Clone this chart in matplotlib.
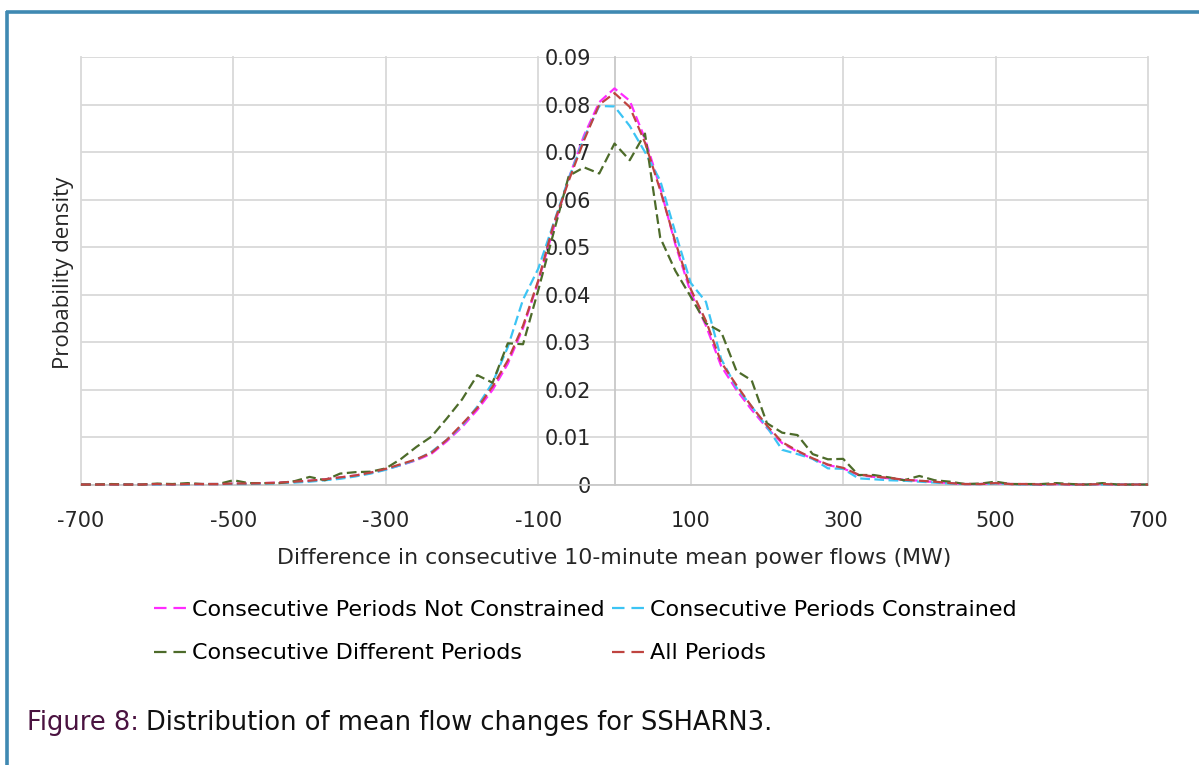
import numpy as np
import matplotlib
matplotlib.use("Agg")
import matplotlib.pyplot as plt
from matplotlib.lines import Line2D

# ---------------- data ----------------
x_bins = np.arange(-700, 701, 20)

not_constrained = [
    0.0001, 0.0001, 0.0001, 0.0001, 0.0001, 0.0002, 0.0001, 0.0002, 0.0002, 0.0002,
    0.0003, 0.0003, 0.0004, 0.0005, 0.0007, 0.0009, 0.0012, 0.0016, 0.0020, 0.0026,
    0.0033, 0.0042, 0.0052, 0.0066, 0.0092, 0.0122, 0.0158, 0.0200, 0.0255, 0.0330,
    0.0428, 0.0540, 0.0645, 0.0735, 0.0805, 0.0834, 0.0808, 0.0728, 0.0625, 0.0505,
    0.0405, 0.0335, 0.0250, 0.0200, 0.0158, 0.0120, 0.0088, 0.0070, 0.0055, 0.0042,
    0.0035, 0.0021, 0.0017, 0.0014, 0.0011, 0.0009, 0.0006, 0.0004, 0.0002, 0.0002,
    0.0004, 0.0002, 0.0002, 0.0001, 0.0002, 0.0001, 0.0001, 0.0002, 0.0001, 0.0001, 0.0001,
]

constrained = [
    0.0001, 0.0001, 0.0001, 0.0001, 0.0001, 0.0001, 0.0001, 0.0001, 0.0002, 0.0002,
    0.0002, 0.0002, 0.0003, 0.0004, 0.0005, 0.0007, 0.0010, 0.0013, 0.0018, 0.0024,
    0.0032, 0.0042, 0.0053, 0.0070, 0.0095, 0.0125, 0.0165, 0.0215, 0.0290, 0.0390,
    0.0455, 0.0550, 0.0645, 0.0730, 0.0797, 0.0796, 0.0755, 0.0700, 0.0640, 0.0530,
    0.0425, 0.0385, 0.0265, 0.0205, 0.0165, 0.0122, 0.0074, 0.0065, 0.0055, 0.0035,
    0.0034, 0.0014, 0.0012, 0.0010, 0.0009, 0.0007, 0.0005, 0.0003, 0.0002, 0.0002,
    0.0003, 0.0002, 0.0001, 0.0001, 0.0002, 0.0001, 0.0001, 0.0001, 0.0001, 0.0001, 0.0001,
]

different = [
    0.0001, 0.0001, 0.0002, 0.0001, 0.0001, 0.0003, 0.0002, 0.0004, 0.0002, 0.0002,
    0.0010, 0.0004, 0.0004, 0.0004, 0.0008, 0.0017, 0.0010, 0.0024, 0.0027, 0.0028,
    0.0035, 0.0055, 0.0080, 0.0102, 0.0140, 0.0180, 0.0231, 0.0215, 0.0298, 0.0296,
    0.0410, 0.0530, 0.0650, 0.0668, 0.0655, 0.0718, 0.0683, 0.0739, 0.0520, 0.0450,
    0.0396, 0.0340, 0.0322, 0.0240, 0.0220, 0.0130, 0.0110, 0.0105, 0.0065, 0.0054,
    0.0055, 0.0021, 0.0021, 0.0016, 0.0010, 0.0019, 0.0010, 0.0007, 0.0002, 0.0003,
    0.0007, 0.0002, 0.0002, 0.0002, 0.0004, 0.0002, 0.0001, 0.0004, 0.0001, 0.0001, 0.0001,
]

all_periods = [
    0.0001, 0.0001, 0.0001, 0.0001, 0.0001, 0.0002, 0.0001, 0.0002, 0.0002, 0.0002,
    0.0003, 0.0003, 0.0004, 0.0005, 0.0007, 0.0009, 0.0012, 0.0016, 0.0020, 0.0026,
    0.0034, 0.0044, 0.0054, 0.0068, 0.0095, 0.0128, 0.0162, 0.0207, 0.0262, 0.0335,
    0.0430, 0.0548, 0.0640, 0.0725, 0.0800, 0.0824, 0.0795, 0.0720, 0.0620, 0.0510,
    0.0412, 0.0345, 0.0258, 0.0210, 0.0165, 0.0125, 0.0090, 0.0072, 0.0056, 0.0043,
    0.0036, 0.0022, 0.0018, 0.0015, 0.0011, 0.0009, 0.0007, 0.0004, 0.0002, 0.0002,
    0.0004, 0.0002, 0.0002, 0.0001, 0.0002, 0.0001, 0.0001, 0.0002, 0.0001, 0.0001, 0.0001,
]

series_labels = [
    "Consecutive Periods Not Constrained",
    "Consecutive Periods Constrained",
    "Consecutive Different Periods",
    "All Periods",
]
series_colors = ["#ff2bff", "#3cc4f4", "#4d6b2a", "#bf4440"]

x_ticks = [-700, -500, -300, -100, 100, 300, 500, 700]
y_ticks = [0, 0.01, 0.02, 0.03, 0.04, 0.05, 0.06, 0.07, 0.08, 0.09]
y_tick_labels = ["0", "0.01", "0.02", "0.03", "0.04", "0.05", "0.06", "0.07", "0.08", "0.09"]

x_label = "Difference in consecutive 10-minute mean power flows (MW)"
y_label = "Probability density"
caption_head = "Figure 8:"
caption_body = "Distribution of mean flow changes for SSHARN3."

# ---------------- figure ----------------
W, H = 1199, 765
plt.rcParams["font.family"] = ["DejaVu Sans"]
plt.rcParams["lines.scale_dashes"] = False

fig = plt.figure(figsize=(W / 100, H / 100), dpi=100)
fig.patch.set_facecolor("white")

ax = fig.add_axes([81 / W, 1 - 485 / H, (1148 - 81) / W, (485 - 57) / H])
ax.set_xlim(-700, 700)
ax.set_ylim(0, 0.09)

grid_col = "#d9d9d9"
ax.set_xticks(x_ticks)
ax.set_xticklabels([str(v) for v in x_ticks])
ax.set_yticks(y_ticks)
ax.set_yticklabels(y_tick_labels)
ax.grid(True, color=grid_col, lw=1.3, zorder=0)
for gl in ax.get_xgridlines() + ax.get_ygridlines():
    gl.set_clip_on(False)
ax.set_axisbelow(True)

for s in ["top", "right"]:
    ax.spines[s].set_visible(False)
ax.spines["left"].set_position(("data", 0))
ax.spines["left"].set_color("#c8c8c8")
ax.spines["left"].set_linewidth(1.3)
ax.spines["bottom"].set_color("#c8c8c8")
ax.spines["bottom"].set_linewidth(1.3)

ax.tick_params(axis="both", length=0, labelsize=15, colors="#262626")
ax.tick_params(axis="x", pad=19)
ax.tick_params(axis="y", pad=17)

series = [not_constrained, constrained, different, all_periods]
lines = []
for vals, lab, col in zip(series, series_labels, series_colors):
    ln, = ax.plot(x_bins, vals, color=col, lw=1.6, ls=(0, (7, 3.2)),
                  label=lab, zorder=3, clip_on=False)
    lines.append(ln)

ax.set_xlabel(x_label, fontsize=15.8, color="#262626", labelpad=12)
fig.text(63 / W, 1 - 273 / H, y_label, rotation=90, ha="center", va="center",
         fontsize=16, color="#262626", family=["Open Sans", "DejaVu Sans"])

# legend (order so that rows read: magenta, blue / green, red)
order = [0, 2, 1, 3]
proxies = [Line2D([], [], color=series_colors[i], lw=1.6, ls=(0, (9, 5)))
           for i in order]
fig.legend(proxies, [series_labels[i] for i in order],
           ncol=2, loc="upper left", bbox_to_anchor=(154 / W, 1 - 600 / H),
           frameon=False, fontsize=16, handlelength=1.6, handletextpad=0.12,
           columnspacing=0.33, labelspacing=1.05, borderaxespad=0, borderpad=0)

# caption with two colours
cap_y = 1 - 723 / H
t1 = fig.text(27 / W, cap_y, caption_head, color="#4a1240", fontsize=18.5,
              ha="left", va="center")
fig.canvas.draw()
bb = t1.get_window_extent(renderer=fig.canvas.get_renderer())
fig.text((bb.x1 + 7) / W, cap_y, caption_body, color="#111111", fontsize=18.5,
         ha="left", va="center")

# blue frame (top and left edges)
frame_col = "#3f89b2"
fig.add_artist(Line2D([6 / W, 1.0], [1 - 12 / H, 1 - 12 / H], color=frame_col,
                      lw=2.6, solid_capstyle="butt"))
fig.add_artist(Line2D([7 / W, 7 / W], [0.0, 1 - 11 / H], color=frame_col,
                      lw=2.6, solid_capstyle="butt"))

fig.savefig("out.png", dpi=100, facecolor="white")
